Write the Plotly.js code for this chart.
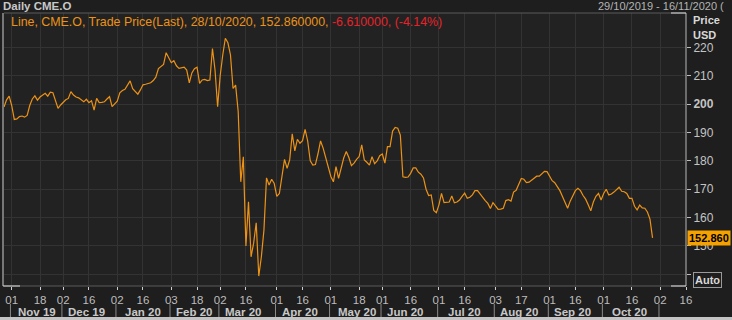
<!DOCTYPE html>
<html>
<head>
<meta charset="utf-8">
<script src="https://cdn.plot.ly/plotly-3.0.1.min.js"></script>
<style>
  html, body { margin: 0; padding: 0; background: #1e1e1e; }
  #chart { width: 732px; height: 320px; }
</style>
</head>
<body>
<div id="chart"></div>
<script>
// ---------- DATA ----------
const firstDate = '2019-10-29';
const lastDate = '2020-10-28';
const axisEnd = '2020-11-16';
const holidays = ['2019-11-28','2019-12-25','2020-01-01','2020-01-20','2020-02-17',
                  '2020-04-10','2020-05-25','2020-07-03','2020-09-07'];
// daily close, CME.O, USD
const closes = [
  199, 201.5, 202.8, 199.5, 194.6, 194.8, 195.6, 195.8, 195.4, 196,
  199.5, 201.8, 202.9, 201.4, 202.5, 203.2, 203.8, 202.8, 204.2, 204,
  201.5, 198.5, 199.7, 200.8, 201.5, 202, 204.4, 203.2, 202.5, 202.2,
  201.5, 200.8, 201.7, 200.5, 201.2, 197.9, 202, 200.5, 200.6, 200.8,
  201.8, 202.6, 199.1, 200, 201, 204, 204.8, 205.2, 206.5, 208.2,
  205.4, 204.5, 203.5, 205, 206.8, 207, 207.2, 207.5, 208.3, 209.5,
  212.5, 213.4, 214, 218.1, 216.5, 214.6, 215.3, 213.5, 212.6, 212.8,
  213, 212, 207.5, 211, 212.5, 213, 207.3, 208.5, 208.7, 208.3,
  208.5, 219.6, 212, 199.1, 210, 217.3, 223.2, 221.6, 217.3, 205.5,
  206.7, 197.3, 172.6, 181.4, 150, 165.6, 146.2, 151, 158.2, 139.4,
  146.2, 155.6, 174, 171.5, 173.5, 172, 167.5, 168.5, 174.5, 180.5,
  177.4, 180.3, 189.5, 183.5, 187.6, 186.2, 187.1, 191.1, 187, 180,
  178.5, 178.7, 182.5, 187, 184.5, 181, 177.5, 174.5, 172.6, 178,
  173.8, 178, 181, 183.3, 181.2, 178.3, 179.2, 180.5, 181.5, 185.6,
  180.3, 179.5, 178.5, 181.5, 179, 180, 181.8, 182.4, 179.2, 185,
  185, 190.5, 191.8, 191.5, 189.1, 174.4, 174.2, 174.3, 175.6, 177.5,
  177.5, 176, 175.3, 174, 170, 167.8, 168, 162.5, 161.7, 164.5,
  168.5, 165.3, 165.5, 165.5, 167.6, 165.2, 165.5, 166.2, 167.5, 168.6,
  166.8, 167.2, 168, 169.5, 169.5, 168.2, 167, 166, 165, 163.2,
  165.3, 164, 162.9, 163, 163.3, 166, 166.3, 165.8, 169, 169.6,
  171.5, 173.8, 173.5, 172.3, 172.5, 173.1, 174, 174.6, 174.6, 175.5,
  176.3, 176.2, 174.6, 173, 172.3, 171, 169.5, 167.4, 165, 163.3,
  165.8, 167.8, 169.5, 170.3, 169.5, 167.8, 166.5, 164.5, 162.4, 165.5,
  167.5, 168.5, 166.2, 168.5, 170, 168, 168.3, 169, 169.8, 170.7,
  169.3, 169.1, 168.5, 166.8, 166.8, 164, 162.7, 164.4, 163.4, 163.3,
  162, 159.47, 152.86
];
const lastClose = 152.86;
const change = -6.61;
const changePct = -4.14;

const tickDates = ['2019-11-01','2019-11-18','2019-12-02','2019-12-16','2020-01-02','2020-01-16',
  '2020-02-03','2020-02-18','2020-03-02','2020-03-16','2020-04-01','2020-04-16','2020-05-01',
  '2020-05-18','2020-06-01','2020-06-16','2020-07-01','2020-07-16','2020-08-03','2020-08-17',
  '2020-09-01','2020-09-16','2020-10-01','2020-10-16','2020-11-02','2020-11-16'];
const tickLabels = ['01','18','02','16','02','16','03','18','02','16','01','16','01',
  '18','01','16','01','16','03','17','01','16','01','16','02','16'];
const monthLabels = ['Nov 19','Dec 19','Jan 20','Feb 20','Mar 20','Apr 20','May 20',
  'Jun 20','Jul 20','Aug 20','Sep 20','Oct 20'];
// last trading day before each month boundary
const monthBreaks = ['2019-10-31','2019-11-29','2019-12-31','2020-01-31','2020-02-28','2020-03-31',
  '2020-04-30','2020-05-29','2020-06-30','2020-07-31','2020-08-31','2020-09-30','2020-10-30'];
const yTicks = [140,150,160,170,180,190,200,210,220];
const yTickText = ['','150','160','170','180','190','<b>200</b>','210','220'];

// ---------- trading calendar ----------
function tradingDays(a, b) {
  const out = [];
  let d = new Date(a + 'T00:00:00Z');
  const e = new Date(b + 'T00:00:00Z');
  while (d <= e) {
    const s = d.toISOString().slice(0, 10);
    const w = d.getUTCDay();
    if (w !== 0 && w !== 6 && holidays.indexOf(s) < 0) out.push(s);
    d = new Date(d.getTime() + 86400000);
  }
  return out;
}
const dates = tradingDays(firstDate, lastDate).slice(0, closes.length);

// ---------- layout helpers ----------
const W = 732, H = 320, L = 4, R = 46, T = 13, B = 34;
const pw = W - L - R, ph = H - T - B;
const px = x => (x - L) / pw;
const py = y => (H - B - y) / ph;

const monthMid = [];
for (let i = 0; i < monthLabels.length; i++) {
  const t0 = new Date(monthBreaks[i] + 'T12:00:00Z').getTime();
  const t1 = new Date(monthBreaks[i + 1] + 'T12:00:00Z').getTime();
  monthMid.push(new Date((t0 + t1) / 2).toISOString().slice(0, 10) + ' 00:00');
}

const font = 'Liberation Sans, Arial, sans-serif';
const orange = '#ec9216';

const shapes = [];
// month separators
monthBreaks.forEach(d => shapes.push({type:'line', xref:'x', yref:'paper', x0: d + ' 12:00', x1: d + ' 12:00',
  y0: py(304), y1: py(318), line:{color:'#8a8a8a', width:1}}));
// frame
shapes.push({type:'line', xref:'paper', yref:'paper', x0:0, x1:1, y0:1, y1:1, line:{color:'#5a5a5a', width:1}});
shapes.push({type:'line', xref:'paper', yref:'paper', x0:0, x1:1, y0:0, y1:0, line:{color:'#5a5a5a', width:1}});
shapes.push({type:'line', xref:'paper', yref:'paper', x0:px(3), x1:px(3), y0:0, y1:1, line:{color:'#d0d0d0', width:1}});
shapes.push({type:'line', xref:'paper', yref:'paper', x0:1, x1:1, y0:0, y1:1, line:{color:'#b8b8b8', width:1}});
shapes.push({type:'line', xref:'paper', yref:'paper', x0:px(3), x1:px(20), y0:0, y1:0, line:{color:'#e0e0e0', width:1}});
shapes.push({type:'line', xref:'paper', yref:'paper', x0:px(671), x1:1, y0:0, y1:0, line:{color:'#e0e0e0', width:1}});
shapes.push({type:'line', xref:'paper', yref:'paper', x0:px(671), x1:1, y0:1, y1:1, line:{color:'#e0e0e0', width:1}});
// bottom scrollbar strip
shapes.push({type:'rect', xref:'paper', yref:'paper', x0:px(0), x1:px(732), y0:py(320), y1:py(317),
  line:{width:0}, fillcolor:'#c4c4c4'});

const annotations = [];
monthLabels.forEach((m, i) => annotations.push({xref:'x', yref:'paper', x: monthMid[i], y: py(311.5),
  text: '<b>' + m + '</b>', showarrow:false, xanchor:'center', yanchor:'middle',
  font:{family:font, size:11.5, color:'#c8c8c8'}}));
annotations.push({xref:'paper', yref:'paper', x: px(1), y: py(6), xanchor:'left', yanchor:'middle',
  text:'<b>Daily CME.O</b>', showarrow:false, font:{family:font, size:11.5, color:'#c8c8c8'}});
annotations.push({xref:'paper', yref:'paper', x: px(596), y: py(6), xanchor:'left', yanchor:'middle',
  text:'29/10/2019 - 16/11/2020 (', showarrow:false, font:{family:font, size:11, color:'#b4b4b4'}});
annotations.push({xref:'paper', yref:'paper', x: px(9), y: py(22), xanchor:'left', yanchor:'middle',
  text:'Line, CME.O, Trade Price(Last), 28/10/2020, ' + lastClose.toFixed(6) + ', ' +
       '<span style="color:#e8222a">' + change.toFixed(6) + ', (' + changePct.toFixed(2) + '%)</span>',
  showarrow:false, font:{family:font, size:12.4, color:orange}});
annotations.push({xref:'paper', yref:'paper', x: px(691), y: py(20), xanchor:'left', yanchor:'middle',
  text:'<b>Price</b>', showarrow:false, font:{family:font, size:11, color:'#d8d8d8'}});
annotations.push({xref:'paper', yref:'paper', x: px(691), y: py(35), xanchor:'left', yanchor:'middle',
  text:'<b>USD</b>', showarrow:false, font:{family:font, size:11, color:'#d8d8d8'}});
annotations.push({xref:'paper', yref:'y', x: 1, y: lastClose, xanchor:'left', yanchor:'middle', xshift:1,
  text:'<b>' + lastClose.toFixed(3) + '</b>', showarrow:false, bgcolor:'#f5a200', borderpad:1,
  font:{family:font, size:11, color:'#000'}});
annotations.push({xref:'paper', yref:'paper', x: px(707), y: py(280), xanchor:'center', yanchor:'middle',
  text:'<b>Auto</b>', showarrow:false, bordercolor:'#9a9a9a', borderwidth:1, borderpad:1,
  font:{family:font, size:11, color:'#d8d8d8'}});

const trace = {
  x: dates, y: closes, type:'scatter', mode:'lines',
  line:{color:orange, width:1.2}, hoverinfo:'skip'
};

const layout = {
  width: W, height: H,
  margin:{l:L, r:R, t:T, b:B, pad:0},
  paper_bgcolor:'#1e1e1e', plot_bgcolor:'#222222',
  showlegend:false,
  xaxis:{
    type:'date', range:[firstDate, axisEnd],
    rangebreaks:[{bounds:['sat','mon']}, {values: holidays}],
    tickmode:'array', tickvals: tickDates, ticktext: tickLabels,
    ticks:'outside', ticklen:3, tickcolor:'#cfcfcf', tickwidth:1,
    showgrid:true, gridcolor:'#333333', gridwidth:1,
    showline:false, zeroline:false,
    tickfont:{family:font, size:11.5, color:'#bdbdbd'}
  },
  yaxis:{
    side:'right', range:[135.9, 232.1],
    tickmode:'array', tickvals:yTicks, ticktext:yTickText,
    ticks:'outside', ticklen:4, tickcolor:'#bdbdbd',
    showgrid:true, gridcolor:'#333333', gridwidth:1,
    showline:false, zeroline:false,
    tickfont:{family:font, size:12, color:'#c4c4c4'}
  },
  shapes: shapes,
  annotations: annotations
};

Plotly.newPlot('chart', [trace], layout, {displayModeBar:false, staticPlot:true});
</script>
</body>
</html>
